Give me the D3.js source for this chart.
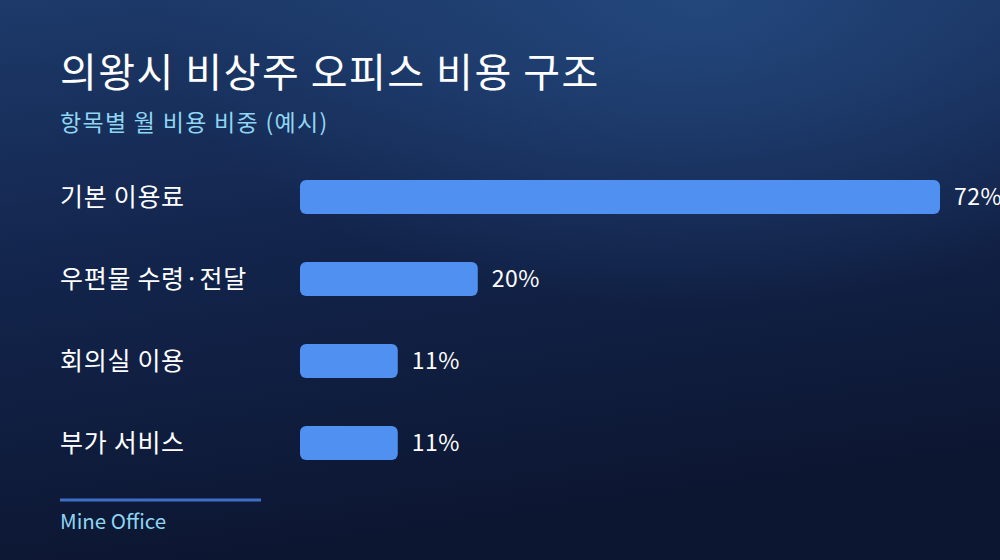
<!DOCTYPE html>
<html>
<head>
<meta charset="utf-8">
<script src="https://cdn.jsdelivr.net/npm/d3@7"></script>
<style>
  html, body { margin: 0; padding: 0; background: #0d1833; overflow: hidden; }
  text { font-family: "Noto Sans CJK KR", "Noto Sans", sans-serif; }
</style>
</head>
<body>
<div class="canvas"></div>
<script>
const categories = ['기본 이용료', '우편물 수령·전달', '회의실 이용', '부가 서비스'];
const shares = [72, 20, 11, 11];
const title = '의왕시 비상주 오피스 비용 구조';
const subtitle = '항목별 월 비용 비중 (예시)';
const source = 'Mine Office';

const dims = { width: 1000, height: 560 };

const svg = d3.select('.canvas').append('svg')
	.attr('width', dims.width)
	.attr('height', dims.height);

// background gradients
const defs = svg.append('defs');
const bg = defs.append('linearGradient')
	.attr('id', 'bg')
	.attr('x1', 0).attr('y1', 0).attr('x2', 0.25).attr('y2', 1);
bg.append('stop').attr('offset', '0%').attr('stop-color', '#1d3a6a');
bg.append('stop').attr('offset', '45%').attr('stop-color', '#13254d');
bg.append('stop').attr('offset', '100%').attr('stop-color', '#0c1631');

const glow = defs.append('radialGradient')
	.attr('id', 'glow')
	.attr('cx', 0.7).attr('cy', 0).attr('r', 0.55);
glow.append('stop').attr('offset', '0%').attr('stop-color', '#24497f').attr('stop-opacity', 0.9);
glow.append('stop').attr('offset', '100%').attr('stop-color', '#24497f').attr('stop-opacity', 0);

svg.append('rect').attr('width', dims.width).attr('height', dims.height).attr('fill', 'url(#bg)');
svg.append('rect').attr('width', dims.width).attr('height', dims.height).attr('fill', 'url(#glow)');

// titles
svg.append('text')
	.attr('x', 60).attr('y', 87)
	.attr('fill', '#ffffff')
	.attr('font-size', 40)
	.attr('font-weight', 400)
	.attr('letter-spacing', 1.5)
	.text(title);

svg.append('text')
	.attr('x', 60).attr('y', 131)
	.attr('fill', '#8fd6f2')
	.attr('font-size', 23)
	.attr('letter-spacing', 1.3)
	.text(subtitle);

// scales
const x = d3.scaleLinear()
	.domain([0, d3.max(shares)])
	.range([300, 940]);

const y = d3.scaleBand()
	.domain(categories)
	.range([180, 460])
	.paddingInner(0.585);

const data = categories.map((c, i) => ({ name: c, value: shares[i] }));

const rows = svg.append('g').selectAll('g')
	.data(data)
	.enter().append('g');

rows.append('text')
	.attr('x', 60)
	.attr('y', d => y(d.name) + y.bandwidth() / 2)
	.attr('dy', '0.35em')
	.attr('fill', '#ffffff')
	.attr('font-size', 25)
	.attr('letter-spacing', 0.7)
	.text(d => d.name);

rows.append('rect')
	.attr('x', x(0))
	.attr('y', d => y(d.name))
	.attr('width', d => x(d.value) - x(0))
	.attr('height', y.bandwidth())
	.attr('rx', 6)
	.attr('fill', '#4f90f0');

rows.append('text')
	.attr('x', d => x(d.value) + 14)
	.attr('y', d => y(d.name) + y.bandwidth() / 2)
	.attr('dy', '0.35em')
	.attr('fill', '#ffffff')
	.attr('font-size', 23)
	.attr('letter-spacing', 0.5)
	.text(d => d.value + '%');

// footer
svg.append('line')
	.attr('x1', 60).attr('x2', 261)
	.attr('y1', 500).attr('y2', 500)
	.attr('stroke', '#3e6fc4')
	.attr('stroke-width', 3);

svg.append('text')
	.attr('x', 60).attr('y', 529)
	.attr('fill', '#8fd6f2')
	.attr('font-size', 20.5)
	.text(source);
</script>
</body>
</html>
